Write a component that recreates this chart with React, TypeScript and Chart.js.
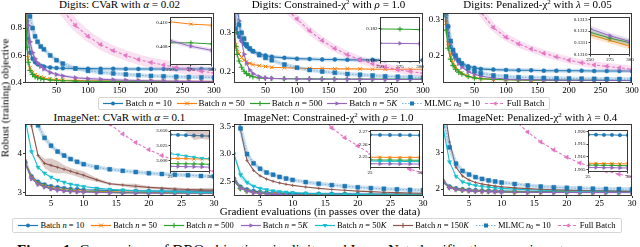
import React, { useEffect, useRef } from "react";
import { Chart, registerables } from "chart.js";
Chart.register(...registerables);

const FONT = "'Liberation Serif', 'Times New Roman', serif";

// ---------- shared x grids / ticks ----------
const digitsX = [1, 3, 5, 8, 12, 16, 20, 25, 30, 40, 50, 60, 80, 100, 120, 140, 160, 180, 200, 220, 240, 260, 280, 300];
const digitsXTicks = [50, 100, 150, 200, 250, 300];
const digitsInsetX = [250, 275, 300];
const digitsInsetXTicks = [250, 275, 300];
const imagenetX = [1, 2, 3, 4, 5, 6, 7, 8, 9, 10, 12, 14, 16, 18, 20, 22, 24, 26, 28, 30];
const imagenetXTicks = [5, 10, 15, 20, 25, 30];
const imagenetInsetX = [25, 26, 27, 28, 29, 30];
const imagenetInsetXTicks = [25, 30];

// ---------- Digits: CVaR alpha=0.02 ----------
const cvarD_b10 = [1.2, 0.85, 0.72, 0.62, 0.575, 0.55, 0.535, 0.525, 0.518, 0.512, 0.508, 0.506, 0.504, 0.503, 0.502, 0.502, 0.501, 0.501, 0.501, 0.5, 0.5, 0.5, 0.5, 0.5];
const cvarD_b50 = [1.0, 0.7, 0.58, 0.51, 0.475, 0.458, 0.448, 0.44, 0.434, 0.427, 0.423, 0.42, 0.417, 0.415, 0.414, 0.413, 0.4125, 0.412, 0.4115, 0.411, 0.4105, 0.4102, 0.41, 0.4098];
const cvarD_b500 = [0.95, 0.66, 0.55, 0.49, 0.46, 0.445, 0.437, 0.43, 0.426, 0.42, 0.416, 0.414, 0.412, 0.411, 0.4102, 0.4097, 0.4093, 0.409, 0.4088, 0.4086, 0.4084, 0.4083, 0.4082, 0.4082];
const cvarD_b5k = [1.3, 0.95, 0.82, 0.7, 0.62, 0.575, 0.545, 0.52, 0.5, 0.475, 0.46, 0.45, 0.437, 0.43, 0.425, 0.421, 0.418, 0.416, 0.414, 0.4125, 0.411, 0.4098, 0.4087, 0.4077];
const cvarD_mlmc = [1.5, 1.15, 1.0, 0.886, 0.8, 0.74, 0.7, 0.665, 0.645, 0.6, 0.565, 0.54, 0.505, 0.487, 0.477, 0.468, 0.461, 0.455, 0.45, 0.447, 0.444, 0.442, 0.44, 0.438];
const cvarD_full = [2.6, 2.3, 2.1, 1.9, 1.7, 1.55, 1.45, 1.35, 1.25, 1.1, 1.0, 0.93, 0.82, 0.74, 0.68, 0.635, 0.6, 0.57, 0.548, 0.53, 0.512, 0.497, 0.484, 0.472];
const cvarDIn_b50 = [0.4101, 0.4099, 0.4098];
const cvarDIn_b500 = [0.4083, 0.4083, 0.4082];
const cvarDIn_b5k = [0.4085, 0.408, 0.40765];

// ---------- Digits: Constrained chi2 rho=1.0 ----------
const chiD_b10 = [0.36, 0.31, 0.3, 0.29, 0.28, 0.272, 0.265, 0.258, 0.253, 0.246, 0.242, 0.239, 0.236, 0.234, 0.233, 0.232, 0.232, 0.231, 0.231, 0.231, 0.23, 0.23, 0.23, 0.23];
const chiD_b50 = [0.3, 0.27, 0.258, 0.246, 0.237, 0.23, 0.226, 0.222, 0.219, 0.216, 0.214, 0.212, 0.211, 0.21, 0.209, 0.209, 0.208, 0.208, 0.208, 0.207, 0.207, 0.207, 0.207, 0.207];
const chiD_b500 = [0.3, 0.265, 0.245, 0.228, 0.212, 0.202, 0.196, 0.191, 0.188, 0.185, 0.184, 0.1835, 0.183, 0.1828, 0.1826, 0.1824, 0.1823, 0.1822, 0.1821, 0.182, 0.182, 0.182, 0.182, 0.1819];
const chiD_b5k = [0.45, 0.4, 0.37, 0.33, 0.28, 0.245, 0.222, 0.205, 0.196, 0.188, 0.185, 0.1838, 0.1828, 0.1823, 0.1819, 0.1817, 0.1815, 0.1814, 0.1813, 0.1812, 0.1811, 0.1811, 0.181, 0.181];
const chiD_mlmc = [0.5, 0.4, 0.36, 0.32, 0.3, 0.285, 0.27, 0.26, 0.253, 0.243, 0.236, 0.23, 0.219, 0.211, 0.205, 0.201, 0.198, 0.195, 0.193, 0.191, 0.189, 0.188, 0.187, 0.186];
const chiD_full = [1.5, 1.2, 1.05, 0.9, 0.78, 0.7, 0.64, 0.58, 0.53, 0.47, 0.43, 0.4, 0.365, 0.335, 0.305, 0.28, 0.26, 0.244, 0.231, 0.221, 0.213, 0.206, 0.201, 0.197];
const chiDIn_b500 = [0.18196, 0.18195, 0.18192];
const chiDIn_b5k = [0.18107, 0.18106, 0.18104];

// ---------- Digits: Penalized chi2 lambda=0.05 ----------
const penD_b10 = [0.45, 0.36, 0.31, 0.26, 0.225, 0.205, 0.193, 0.183, 0.177, 0.17, 0.166, 0.163, 0.161, 0.16, 0.159, 0.159, 0.158, 0.158, 0.158, 0.158, 0.157, 0.157, 0.157, 0.157];
const penD_b50 = [0.45, 0.35, 0.29, 0.235, 0.2, 0.18, 0.168, 0.158, 0.151, 0.143, 0.139, 0.136, 0.134, 0.133, 0.1325, 0.132, 0.1318, 0.1316, 0.1314, 0.1313, 0.1312, 0.1311, 0.1311, 0.131];
const penD_b500 = [0.42, 0.32, 0.27, 0.22, 0.19, 0.172, 0.162, 0.154, 0.149, 0.142, 0.138, 0.136, 0.134, 0.133, 0.1325, 0.132, 0.1318, 0.1316, 0.1315, 0.1314, 0.1313, 0.1312, 0.1311, 0.1311];
const penD_b5k = [0.5, 0.4, 0.34, 0.28, 0.235, 0.208, 0.192, 0.178, 0.168, 0.155, 0.148, 0.143, 0.138, 0.135, 0.134, 0.133, 0.1325, 0.132, 0.1318, 0.1316, 0.1314, 0.1313, 0.1312, 0.1311];
const penD_mlmc = [0.5, 0.4, 0.34, 0.28, 0.24, 0.215, 0.2, 0.187, 0.178, 0.165, 0.157, 0.151, 0.145, 0.142, 0.14, 0.139, 0.138, 0.137, 0.1365, 0.136, 0.1355, 0.135, 0.135, 0.1345];
const penD_full = [1.2, 1.0, 0.9, 0.78, 0.68, 0.6, 0.55, 0.5, 0.46, 0.4, 0.355, 0.32, 0.277, 0.25, 0.232, 0.218, 0.206, 0.196, 0.187, 0.18, 0.174, 0.17, 0.166, 0.162];
const penDIn_b50 = [0.13117, 0.13112, 0.13107];
const penDIn_b500 = [0.13119, 0.13114, 0.1311];
const penDIn_b5k = [0.13122, 0.13116, 0.13111];

// ---------- ImageNet: CVaR alpha=0.1 ----------
const cvarI_b10 = [3.8, 3.42, 3.28, 3.21, 3.17, 3.14, 3.12, 3.1, 3.09, 3.08, 3.07, 3.06, 3.055, 3.05, 3.048, 3.046, 3.045, 3.044, 3.043, 3.042];
const cvarI_b50 = [3.8, 3.4, 3.25, 3.18, 3.13, 3.1, 3.08, 3.065, 3.055, 3.045, 3.035, 3.025, 3.02, 3.015, 3.012, 3.01, 3.007, 3.005, 3.004, 3.003];
const cvarI_b500 = [3.78, 3.38, 3.23, 3.16, 3.11, 3.08, 3.06, 3.045, 3.035, 3.03, 3.02, 3.012, 3.006, 3.002, 2.999, 2.997, 2.996, 2.995, 2.9945, 2.994];
const cvarI_b5k = [3.75, 3.36, 3.22, 3.15, 3.1, 3.07, 3.05, 3.035, 3.025, 3.02, 3.01, 3.003, 2.998, 2.995, 2.993, 2.992, 2.991, 2.99, 2.9895, 2.989];
const cvarI_b50k = [4.9, 4.05, 3.65, 3.5, 3.4, 3.32, 3.27, 3.22, 3.19, 3.16, 3.12, 3.09, 3.07, 3.055, 3.045, 3.035, 3.025, 3.018, 3.012, 3.006];
const cvarI_b150k = [5.5, 4.7, 3.95, 3.75, 3.7, 3.65, 3.6, 3.55, 3.5, 3.45, 3.33, 3.23, 3.2, 3.17, 3.14, 3.12, 3.1, 3.085, 3.075, 3.07];
const cvarI_b150kSpread = [0, 0.05, 0.05, 0.12, 0.18, 0.16, 0.1, 0.08, 0.09, 0.1, 0.05, 0.03, 0.03, 0.06, 0.03, 0.03, 0.04, 0.03, 0.05, 0.06];
const cvarI_mlmc = [6.5, 5.3, 4.72, 4.4, 4.2, 4.05, 3.95, 3.86, 3.79, 3.73, 3.65, 3.6, 3.56, 3.53, 3.5, 3.48, 3.46, 3.45, 3.43, 3.42];
const cvarI_full = [8.0, 7.6, 7.25, 6.9, 6.6, 6.3, 6.05, 5.8, 5.6, 5.4, 5.05, 4.75, 4.5, 4.28, 4.1, 3.95, 3.82, 3.71, 3.62, 3.55];
const cvarIIn_b10 = [3.044, 3.0435, 3.043, 3.0425, 3.042, 3.0415];
const cvarIIn_b50 = [3.004, 3.0035, 3.0035, 3.003, 3.003, 3.003];
const cvarIIn_b500 = [2.9952, 2.995, 2.9948, 2.9946, 2.9943, 2.994];
const cvarIIn_b5k = [2.9905, 2.9903, 2.99, 2.9898, 2.9895, 2.9892];
const cvarIIn_b50k = [3.012, 3.01, 3.008, 3.006, 3.004, 3.003];
const cvarIIn_b150k = [3.085, 3.08, 3.078, 3.075, 3.072, 3.07];
const cvarIIn_b150kSpread = [0.03, 0.025, 0.03, 0.04, 0.035, 0.035];

// ---------- ImageNet: Constrained chi2 rho=1.0 ----------
const chiI_b10 = [2.55, 2.4, 2.35, 2.32, 2.305, 2.295, 2.288, 2.283, 2.279, 2.276, 2.273, 2.271, 2.27, 2.269, 2.268, 2.268, 2.2675, 2.2675, 2.2673, 2.2672];
const chiI_b50 = [2.52, 2.38, 2.33, 2.3, 2.285, 2.275, 2.268, 2.263, 2.26, 2.258, 2.255, 2.253, 2.252, 2.251, 2.2505, 2.25, 2.25, 2.2498, 2.2497, 2.2497];
const chiI_b500 = [2.5, 2.37, 2.32, 2.295, 2.28, 2.27, 2.263, 2.259, 2.256, 2.254, 2.252, 2.25, 2.249, 2.2485, 2.248, 2.2478, 2.2477, 2.2476, 2.2475, 2.2474];
const chiI_b5k = [2.52, 2.37, 2.32, 2.29, 2.275, 2.266, 2.26, 2.256, 2.253, 2.251, 2.249, 2.247, 2.246, 2.2455, 2.245, 2.2448, 2.2447, 2.2446, 2.2445, 2.2444];
const chiI_b50k = [3.0, 2.62, 2.48, 2.41, 2.37, 2.345, 2.325, 2.31, 2.3, 2.292, 2.28, 2.272, 2.266, 2.261, 2.256, 2.252, 2.249, 2.2467, 2.2465, 2.2463];
const chiI_b50kSpread = [0.02, 0.08, 0.04, 0.02, 0.01, 0.01, 0.008, 0.006, 0.005, 0.005, 0.004, 0.003, 0.003, 0.003, 0.002, 0.002, 0.002, 0.002, 0.002, 0.002];
const chiI_b150k = [4.5, 3.45, 2.88, 2.7, 2.6, 2.54, 2.5, 2.47, 2.445, 2.425, 2.395, 2.37, 2.35, 2.335, 2.32, 2.31, 2.3, 2.292, 2.285, 2.28];
const chiI_mlmc = [4.8, 3.47, 3.0, 2.83, 2.73, 2.66, 2.62, 2.58, 2.55, 2.525, 2.485, 2.455, 2.43, 2.41, 2.39, 2.375, 2.362, 2.352, 2.342, 2.335];
const chiI_full = [6.5, 6.2, 5.9, 5.6, 5.3, 5.05, 4.8, 4.6, 4.4, 4.2, 4.0, 3.75, 3.48, 3.3, 3.15, 3.0, 2.89, 2.8, 2.72, 2.65];
const chiIIn_b10 = [2.2675, 2.2675, 2.2674, 2.2674, 2.2673, 2.2672];
const chiIIn_b50 = [2.2498, 2.2498, 2.2497, 2.2497, 2.2497, 2.2497];
const chiIIn_b500 = [2.2477, 2.2476, 2.2476, 2.2475, 2.2475, 2.2474];
const chiIIn_b5k = [2.2447, 2.2446, 2.2446, 2.2445, 2.2445, 2.2444];
const chiIIn_b50k = [2.2468, 2.2467, 2.2466, 2.2465, 2.2464, 2.2463];

// ---------- ImageNet: Penalized chi2 lambda=0.4 ----------
const penI_b10 = [2.22, 2.07, 2.02, 1.995, 1.98, 1.97, 1.962, 1.956, 1.951, 1.947, 1.94, 1.935, 1.931, 1.928, 1.925, 1.922, 1.92, 1.9188, 1.9186, 1.9185];
const penI_b50 = [2.2, 2.05, 2.0, 1.975, 1.96, 1.95, 1.943, 1.937, 1.932, 1.928, 1.922, 1.918, 1.915, 1.913, 1.911, 1.9095, 1.9082, 1.9075, 1.9073, 1.9072];
const penI_b500 = [2.19, 2.04, 1.99, 1.97, 1.955, 1.945, 1.938, 1.932, 1.928, 1.924, 1.918, 1.914, 1.912, 1.91, 1.9085, 1.9075, 1.907, 1.9067, 1.9066, 1.9065];
const penI_b5k = [2.2, 2.04, 1.99, 1.965, 1.95, 1.94, 1.933, 1.928, 1.924, 1.92, 1.915, 1.912, 1.91, 1.908, 1.907, 1.9063, 1.906, 1.9058, 1.9057, 1.9056];
const penI_b50k = [3.7, 2.75, 2.35, 2.2, 2.14, 2.1, 2.07, 2.05, 2.035, 2.02, 2.0, 1.985, 1.972, 1.962, 1.955, 1.948, 1.942, 1.937, 1.932, 1.928];
const penI_b150k = [4.5, 3.3, 2.6, 2.36, 2.25, 2.18, 2.14, 2.11, 2.085, 2.065, 2.035, 2.012, 1.995, 1.982, 1.972, 1.963, 1.956, 1.95, 1.945, 1.94];
const penI_mlmc = [3.95, 3.15, 2.7, 2.5, 2.4, 2.33, 2.28, 2.24, 2.21, 2.18, 2.14, 2.1, 2.07, 2.05, 2.035, 2.022, 2.012, 2.005, 2.0, 1.995];
const penI_full = [7.5, 7.1, 6.7, 6.3, 5.95, 5.6, 5.3, 5.0, 4.7, 4.45, 3.9, 3.57, 3.3, 3.08, 2.88, 2.72, 2.6, 2.5, 2.41, 2.34];
const penIIn_b10 = [1.9187, 1.9187, 1.9186, 1.9186, 1.9185, 1.9185];
const penIIn_b50 = [1.9074, 1.9074, 1.9073, 1.9073, 1.9072, 1.9072];
const penIIn_b500 = [1.9067, 1.9067, 1.9066, 1.9066, 1.9065, 1.9065];
const penIIn_b5k = [1.9058, 1.9058, 1.9057, 1.9057, 1.9056, 1.9056];

// ---------- styles ----------
type Key = "b10" | "b50" | "b500" | "b5k" | "b50k" | "b150k" | "mlmc" | "full";
const STYLES: Record<Key, any> = {
  b10: { color: "#1f77b4", line: "#1f77b4", point: "circle", rot: 0, r: 2, pbw: 0.5, dash: [] },
  b50: { color: "#ff7f0e", line: "#ff7f0e", point: "crossRot", rot: 0, r: 2.6, pbw: 1, dash: [] },
  b500: { color: "#2ca02c", line: "#2ca02c", point: "cross", rot: 0, r: 2.8, pbw: 1.1, dash: [] },
  b5k: { color: "#9467bd", line: "#9467bd", point: "triangle", rot: 90, r: 2.6, pbw: 0.5, dash: [] },
  b50k: { color: "#17becf", line: "#17becf", point: "triangle", rot: 180, r: 2.4, pbw: 0.5, dash: [] },
  b150k: { color: "#8c564b", line: "#8c564b", point: "cross", rot: 0, r: 1.6, pbw: 0.8, dash: [] },
  mlmc: { color: "#1f77b4", line: "#7fb2d9", point: "rect", rot: 0, r: 2.8, pbw: 0.5, dash: [1.5, 1.5] },
  full: { color: "#e377c2", line: "#e377c2", point: "triangle", rot: -90, r: 2.6, pbw: 0.5, dash: [3, 2] },
};

function rgba(hex: string, a: number) {
  const n = parseInt(hex.slice(1), 16);
  return `rgba(${(n >> 16) & 255},${(n >> 8) & 255},${n & 255},${a})`;
}

const boxPlugin = {
  id: "box",
  afterDraw(chart: any) {
    const { ctx, chartArea: a } = chart;
    ctx.save();
    ctx.strokeStyle = "#262626";
    ctx.lineWidth = 0.9;
    const l = Math.round(a.left) + 0.5, t = Math.round(a.top) + 0.5;
    const r = Math.round(a.right) - 0.5, b = Math.round(a.bottom) - 0.5;
    ctx.strokeRect(l, t, r - l, b - t);
    ctx.restore();
  },
};
const whiteBg = {
  id: "whiteBg",
  beforeDraw(chart: any) {
    const { ctx, chartArea: a } = chart;
    ctx.save();
    ctx.fillStyle = "#fff";
    ctx.fillRect(a.left, a.top, a.right - a.left, a.bottom - a.top);
    ctx.restore();
  },
};

interface S { key: Key; y: number[]; halo?: number; spread?: number[] }

function buildConfig(a: any) {
  const datasets: any[] = [];
  a.series.forEach((s: S, i: number) => {
    const st = STYLES[s.key];
    const pts = a.xs.map((x: number, j: number) => ({ x, y: s.y[j] }));
    const base = -10 * i;
    if (s.spread) {
      datasets.push({ data: a.xs.map((x: number, j: number) => ({ x, y: s.y[j] + s.spread![j] })), borderWidth: 0, pointRadius: 0, fill: false, order: base + 3, clip: 0 });
      datasets.push({ data: a.xs.map((x: number, j: number) => ({ x, y: s.y[j] - s.spread![j] })), borderWidth: 0, pointRadius: 0, fill: "-1", backgroundColor: rgba(st.color, 0.3), order: base + 2, clip: 0 });
    }
    if (s.halo) {
      datasets.push({ data: pts, borderColor: rgba(st.color, 0.22), borderWidth: s.halo, pointRadius: 0, fill: false, order: base + 1, clip: 0, borderCapStyle: "round", borderJoinStyle: "round" });
    }
    datasets.push({
      data: pts, borderColor: st.line, borderWidth: a.lw, borderDash: st.dash, fill: false,
      pointStyle: st.point, pointRotation: st.rot, pointRadius: st.r * a.ms,
      pointBackgroundColor: st.color, pointBorderColor: st.color, pointBorderWidth: st.pbw,
      order: base, clip: 0, tension: 0,
    });
  });
  const font = { family: FONT, size: a.font };
  return {
    type: "line",
    data: { datasets },
    options: {
      animation: false, responsive: false, devicePixelRatio: 1, events: [],
      layout: { padding: { left: 0, top: a.padTop, right: a.padRight, bottom: 0 } },
      plugins: { legend: { display: false }, tooltip: { enabled: false }, title: { display: false } },
      scales: {
        x: {
          type: "linear", min: a.xmin, max: a.xmax,
          afterBuildTicks: (ax: any) => { ax.ticks = a.xticks.map((v: number) => ({ value: v })); },
          afterFit: (ax: any) => { ax.height = a.xh; ax.paddingLeft = 0; ax.paddingRight = 0; },
          ticks: { autoSkip: false, maxRotation: 0, minRotation: 0, padding: 0, color: "#000", font, callback: (v: any) => Number(v).toFixed(a.xdec) },
          grid: { drawOnChartArea: false, drawTicks: true, tickLength: a.tl, color: "#000", lineWidth: 0.8 },
          border: { display: false },
        },
        y: {
          type: "linear", min: a.ymin, max: a.ymax,
          afterBuildTicks: (ax: any) => { ax.ticks = a.yticks.map((v: number) => ({ value: v })); },
          afterFit: (ax: any) => { ax.width = a.yw; ax.paddingTop = 0; ax.paddingBottom = 0; },
          ticks: { autoSkip: false, padding: 1, color: "#000", font, callback: (v: any) => Number(v).toFixed(a.ydec) },
          grid: { drawOnChartArea: false, drawTicks: true, tickLength: a.tl, color: "#000", lineWidth: 0.8 },
          border: { display: false },
        },
      },
    },
    plugins: a.inset ? [whiteBg, boxPlugin] : [boxPlugin],
  };
}

// ---------- panel definitions ----------
const sup2 = <sup style={{ fontSize: "7px", lineHeight: 0, verticalAlign: "4px" }}>2</sup>;
const PANELS: any[] = [
  {
    title: <>Digits: CVaR with <i>α</i> = 0.02</>, titleTop: -1,
    box: { left: 25, top: 12, w: 189, h: 71 }, xs: digitsX, xmin: 0, xmax: 300, xticks: digitsXTicks,
    ymin: 0.398, ymax: 0.91, yticks: [0.4, 0.6, 0.8], ydec: 1,
    series: [
      { key: "b10", y: cvarD_b10, halo: 4 }, { key: "b50", y: cvarD_b50 }, { key: "b500", y: cvarD_b500 },
      { key: "b5k", y: cvarD_b5k, halo: 3 }, { key: "mlmc", y: cvarD_mlmc, halo: 4 }, { key: "full", y: cvarD_full, halo: 10 },
    ],
    inset: {
      box: { left: 170, top: 15, w: 42, h: 50 }, xs: digitsInsetX, xmin: 250, xmax: 300, xticks: digitsInsetXTicks,
      ymin: 0.4064, ymax: 0.4105, yticks: [0.408, 0.41], ydec: 3,
      series: [{ key: "b50", y: cvarDIn_b50 }, { key: "b500", y: cvarDIn_b500 }, { key: "b5k", y: cvarDIn_b5k, halo: 4 }],
    },
  },
  {
    title: <>Digits: Constrained-χ{sup2} with <i>ρ</i> = 1.0</>, titleTop: -1,
    box: { left: 234, top: 12, w: 189, h: 71 }, xs: digitsX, xmin: 0, xmax: 300, xticks: digitsXTicks,
    ymin: 0.172, ymax: 0.35, yticks: [0.2, 0.3], ydec: 1,
    series: [
      { key: "b10", y: chiD_b10, halo: 4 }, { key: "b50", y: chiD_b50 }, { key: "b500", y: chiD_b500 },
      { key: "b5k", y: chiD_b5k }, { key: "mlmc", y: chiD_mlmc, halo: 4 }, { key: "full", y: chiD_full, halo: 7 },
    ],
    inset: {
      box: { left: 380, top: 15, w: 40, h: 47 }, xs: digitsInsetX, xmin: 250, xmax: 300, xticks: digitsInsetXTicks,
      ymin: 0.1799, ymax: 0.1827, yticks: [0.18, 0.182], ydec: 3,
      series: [{ key: "b500", y: chiDIn_b500 }, { key: "b5k", y: chiDIn_b5k }],
    },
  },
  {
    title: <>Digits: Penalized-χ{sup2} with <i>λ</i> = 0.05</>, titleTop: -1,
    box: { left: 443, top: 12, w: 189, h: 71 }, xs: digitsX, xmin: 0, xmax: 300, xticks: digitsXTicks,
    ymin: 0.124, ymax: 0.317, yticks: [0.2, 0.3], ydec: 1,
    series: [
      { key: "b10", y: penD_b10, halo: 4 }, { key: "b50", y: penD_b50 }, { key: "b500", y: penD_b500 },
      { key: "b5k", y: penD_b5k }, { key: "mlmc", y: penD_mlmc, halo: 4 }, { key: "full", y: penD_full, halo: 7 },
    ],
    inset: {
      box: { left: 590, top: 15, w: 40, h: 40 }, xs: digitsInsetX, xmin: 250, xmax: 300, xticks: digitsInsetXTicks,
      ymin: 0.130995, ymax: 0.13132, yticks: [0.131, 0.1311, 0.1312, 0.1313], ydec: 4,
      series: [{ key: "b50", y: penDIn_b50, halo: 6 }, { key: "b500", y: penDIn_b500, halo: 6 }, { key: "b5k", y: penDIn_b5k, halo: 6 }],
    },
  },
  {
    title: <>ImageNet: CVaR with <i>α</i> = 0.1</>, titleTop: 112,
    box: { left: 25, top: 123, w: 189, h: 73 }, xs: imagenetX, xmin: 1, xmax: 30, xticks: imagenetXTicks,
    ymin: 2.92, ymax: 4.75, yticks: [3, 4], ydec: 0,
    series: [
      { key: "b10", y: cvarI_b10, halo: 3 }, { key: "b50", y: cvarI_b50 }, { key: "b500", y: cvarI_b500 },
      { key: "b5k", y: cvarI_b5k }, { key: "b50k", y: cvarI_b50k }, { key: "b150k", y: cvarI_b150k, spread: cvarI_b150kSpread },
      { key: "mlmc", y: cvarI_mlmc, halo: 4 }, { key: "full", y: cvarI_full },
    ],
    inset: {
      box: { left: 170, top: 128, w: 40, h: 44 }, xs: imagenetInsetX, xmin: 25, xmax: 30, xticks: imagenetInsetXTicks,
      ymin: 2.981, ymax: 3.0516, yticks: [3.0, 3.025, 3.05], ydec: 3,
      series: [
        { key: "b10", y: cvarIIn_b10 }, { key: "b50", y: cvarIIn_b50 }, { key: "b500", y: cvarIIn_b500 },
        { key: "b5k", y: cvarIIn_b5k }, { key: "b50k", y: cvarIIn_b50k }, { key: "b150k", y: cvarIIn_b150k, spread: cvarIIn_b150kSpread },
      ],
    },
  },
  {
    title: <>ImageNet: Constrained-χ{sup2} with <i>ρ</i> = 1.0</>, titleTop: 112,
    box: { left: 234, top: 123, w: 189, h: 73 }, xs: imagenetX, xmin: 1, xmax: 30, xticks: imagenetXTicks,
    ymin: 2.23, ymax: 3.55, yticks: [2.5, 3.0, 3.5], ydec: 1,
    series: [
      { key: "b10", y: chiI_b10, halo: 3 }, { key: "b50", y: chiI_b50 }, { key: "b500", y: chiI_b500 },
      { key: "b5k", y: chiI_b5k }, { key: "b50k", y: chiI_b50k, spread: chiI_b50kSpread }, { key: "b150k", y: chiI_b150k },
      { key: "mlmc", y: chiI_mlmc, halo: 4 }, { key: "full", y: chiI_full },
    ],
    inset: {
      box: { left: 370, top: 128, w: 50, h: 40 }, xs: imagenetInsetX, xmin: 25, xmax: 30, xticks: imagenetInsetXTicks,
      ymin: 2.2413, ymax: 2.2713, yticks: [2.25, 2.26, 2.27], ydec: 2,
      series: [
        { key: "b10", y: chiIIn_b10 }, { key: "b50", y: chiIIn_b50 }, { key: "b500", y: chiIIn_b500 },
        { key: "b5k", y: chiIIn_b5k }, { key: "b50k", y: chiIIn_b50k },
      ],
    },
  },
  {
    title: <>ImageNet: Penalized-χ{sup2} with <i>λ</i> = 0.4</>, titleTop: 112,
    box: { left: 443, top: 123, w: 189, h: 73 }, xs: imagenetX, xmin: 1, xmax: 30, xticks: imagenetXTicks,
    ymin: 1.81, ymax: 3.79, yticks: [2, 3], ydec: 0,
    series: [
      { key: "b10", y: penI_b10, halo: 3 }, { key: "b50", y: penI_b50 }, { key: "b500", y: penI_b500 },
      { key: "b5k", y: penI_b5k }, { key: "b50k", y: penI_b50k }, { key: "b150k", y: penI_b150k },
      { key: "mlmc", y: penI_mlmc, halo: 4 }, { key: "full", y: penI_full },
    ],
    inset: {
      box: { left: 588, top: 128, w: 40, h: 44 }, xs: imagenetInsetX, xmin: 25, xmax: 30, xticks: imagenetInsetXTicks,
      ymin: 1.904, ymax: 1.9205, yticks: [1.905, 1.91, 1.915, 1.92], ydec: 3,
      series: [
        { key: "b10", y: penIIn_b10 }, { key: "b50", y: penIIn_b50 }, { key: "b500", y: penIIn_b500 }, { key: "b5k", y: penIIn_b5k },
      ],
    },
  },
];

const MAIN = { yw: 30, padTop: 4, padRight: 9, xh: 14, font: 9, tl: 2, lw: 1.1, ms: 1 };
const INS = { yw: 20, padTop: 3, padRight: 5, xh: 8, font: 5, tl: 1.5, lw: 1, ms: 0.85 };

function PanelView({ p }: { p: any }) {
  const mref = useRef<HTMLCanvasElement>(null);
  const iref = useRef<HTMLCanvasElement>(null);
  useEffect(() => {
    const c1 = new Chart(mref.current!, buildConfig({ ...MAIN, ...p, inset: false }) as any);
    const c2 = new Chart(iref.current!, buildConfig({ ...INS, ...p.inset, inset: true }) as any);
    return () => { c1.destroy(); c2.destroy(); };
  }, []);
  const b = p.box, ib = p.inset.box;
  const mw = b.w + MAIN.yw + MAIN.padRight, mh = b.h + MAIN.padTop + MAIN.xh;
  const iw = ib.w + INS.yw + INS.padRight, ih = ib.h + INS.padTop + INS.xh;
  return (
    <>
      <div style={{ position: "absolute", left: b.left - 20, width: b.w + 40, top: p.titleTop, textAlign: "center", fontSize: 11, lineHeight: "11px", whiteSpace: "nowrap" }}>{p.title}</div>
      <canvas ref={mref} width={mw} height={mh} style={{ position: "absolute", left: b.left - MAIN.yw, top: b.top - MAIN.padTop, width: mw, height: mh }} />
      <canvas ref={iref} width={iw} height={ih} style={{ position: "absolute", left: ib.left - INS.yw, top: ib.top - INS.padTop, width: iw, height: ih }} />
    </>
  );
}

function LegendMarker({ k }: { k: Key }) {
  const st = STYLES[k];
  const c = st.color, cx = 10, cy = 4.5;
  let m: any = null;
  if (st.point === "circle") m = <circle cx={cx} cy={cy} r={2} fill={c} />;
  else if (st.point === "rect") m = <rect x={cx - 2} y={cy - 2} width={4} height={4} fill={c} />;
  else if (st.point === "cross") m = <path d={`M${cx - 2.5} ${cy}H${cx + 2.5}M${cx} ${cy - 2.5}V${cy + 2.5}`} stroke={c} strokeWidth={1.1} />;
  else if (st.point === "crossRot") m = <path d={`M${cx - 2} ${cy - 2}L${cx + 2} ${cy + 2}M${cx - 2} ${cy + 2}L${cx + 2} ${cy - 2}`} stroke={c} strokeWidth={1} />;
  else m = <polygon points={`${cx},${cy - 2.6} ${cx + 2.3},${cy + 1.5} ${cx - 2.3},${cy + 1.5}`} fill={c} transform={`rotate(${st.rot} ${cx} ${cy})`} />;
  return (
    <svg width={20} height={9} style={{ display: "block", flex: "none" }}>
      <line x1={0} y1={cy} x2={20} y2={cy} stroke={st.line} strokeWidth={1.2} strokeDasharray={st.dash.length ? st.dash.join(" ") : undefined} />
      {m}
    </svg>
  );
}

function legendLabel(k: Key) {
  switch (k) {
    case "b10": return <>Batch <i>n</i> = 10</>;
    case "b50": return <>Batch <i>n</i> = 50</>;
    case "b500": return <>Batch <i>n</i> = 500</>;
    case "b5k": return <>Batch <i>n</i> = 5<i>K</i></>;
    case "b50k": return <>Batch <i>n</i> = 50<i>K</i></>;
    case "b150k": return <>Batch <i>n</i> = 150<i>K</i></>;
    case "mlmc": return <>MLMC <i>n</i><sub style={{ fontSize: "0.7em", lineHeight: 0, verticalAlign: "-0.2em" }}>0</sub> = 10</>;
    default: return <>Full Batch</>;
  }
}

const LEGEND_TOP: Key[] = ["b10", "b50", "b500", "b5k", "mlmc", "full"];
const LEGEND_BOTTOM: Key[] = ["b10", "b50", "b500", "b5k", "b50k", "b150k", "mlmc", "full"];

function Legend({ keys, left, top, width, height, fontSize }: any) {
  return (
    <div style={{ position: "absolute", left, top, width, height, boxSizing: "border-box", border: "1px solid #d6d6d6", borderRadius: 2, background: "#fff", display: "flex", alignItems: "center", justifyContent: "space-around", padding: "0 2px", fontSize, lineHeight: `${fontSize}px`, whiteSpace: "nowrap" }}>
      {keys.map((k: Key) => (
        <div key={k} style={{ display: "flex", alignItems: "center", gap: 2 }}>
          <LegendMarker k={k} />
          <span>{legendLabel(k)}</span>
        </div>
      ))}
    </div>
  );
}

export default function App() {
  return (
    <div style={{ position: "fixed", left: 0, top: 0, width: 640, height: 247, overflow: "hidden", background: "#fff", fontFamily: FONT, color: "#000" }}>
      {PANELS.map((p, i) => <PanelView key={i} p={p} />)}
      <Legend keys={LEGEND_TOP} left={98} top={97} width={452} height={13} fontSize={9} />
      <Legend keys={LEGEND_BOTTOM} left={12} top={218} width={610} height={15} fontSize={8.5} />
      <div style={{ position: "absolute", left: 5, top: 98, width: 0, height: 0 }}>
        <div style={{ position: "absolute", transform: "translate(-50%, -50%) rotate(-90deg)", fontSize: 11, lineHeight: "11px", whiteSpace: "nowrap", fontWeight: 400 }}>Robust (training) objective</div>
      </div>
      <div style={{ position: "absolute", left: 0, width: 640, top: 206, textAlign: "center", fontSize: 11, lineHeight: "11px", whiteSpace: "nowrap" }}>Gradient evaluations (in passes over the data)</div>
      <div style={{ position: "absolute", left: 17, top: 243, fontSize: 15, lineHeight: "15px", whiteSpace: "nowrap" }}>
        <b>Figure 1:</b> Comparison of DRO objectives in digits and ImageNet classification experiments
      </div>
    </div>
  );
}
